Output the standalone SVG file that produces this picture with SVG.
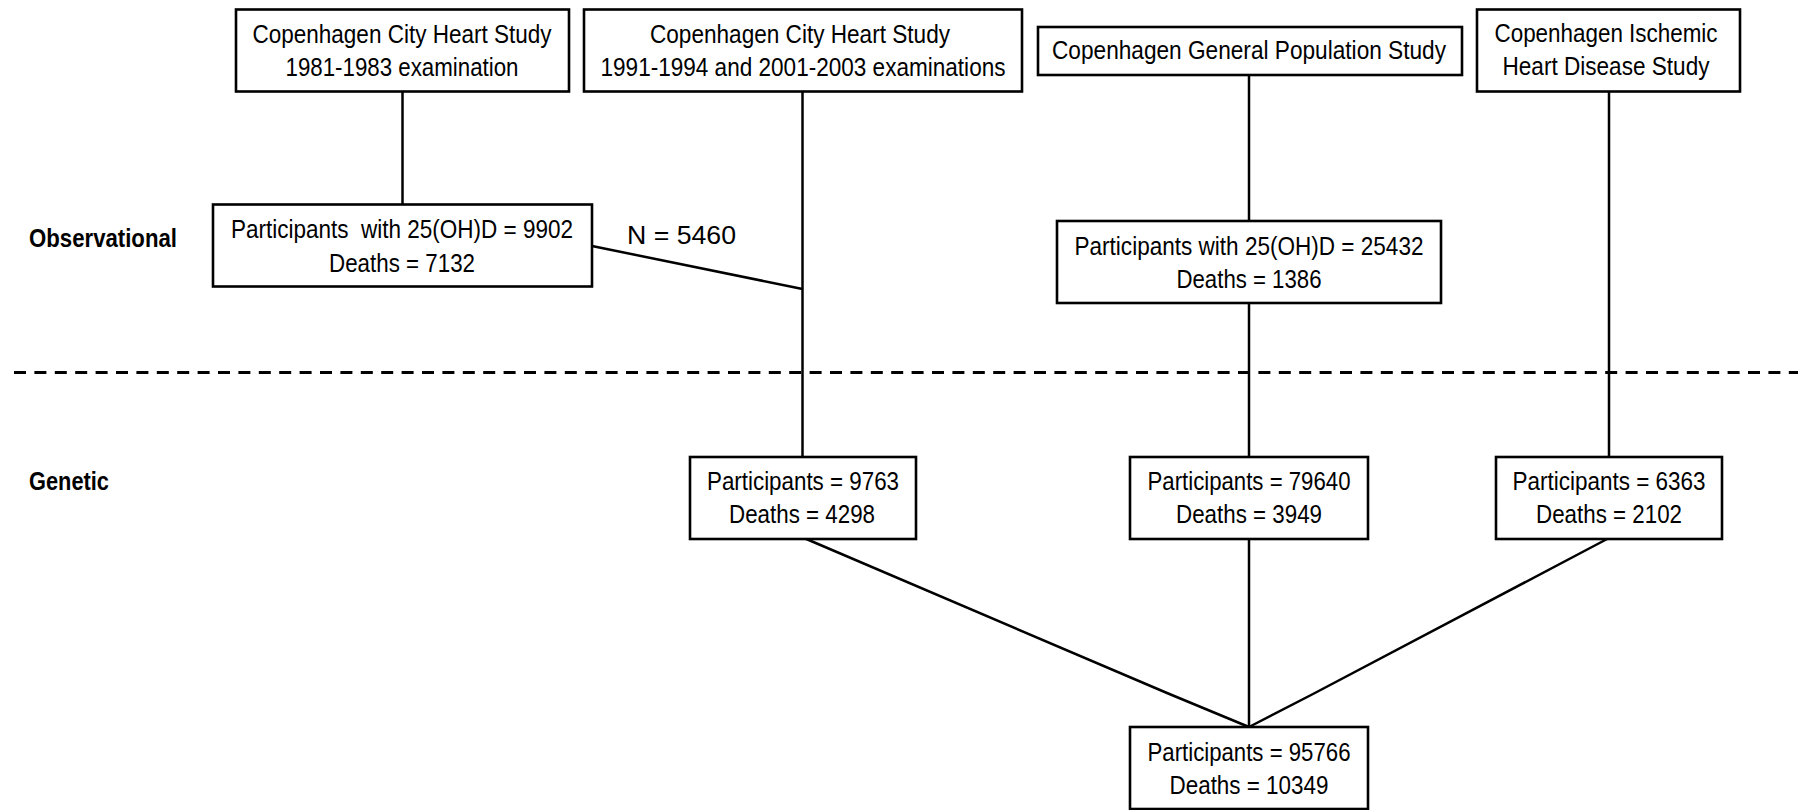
<svg xmlns="http://www.w3.org/2000/svg" width="1798" height="810" viewBox="0 0 1798 810">
<style>
.box{fill:#fff;stroke:#000;stroke-width:2.6}
.t{font-family:"Liberation Sans Narrow","Liberation Sans",Arial,sans-serif;font-size:25px;fill:#000;text-anchor:middle;white-space:pre}
.lbl{font-family:"Liberation Sans Narrow","Liberation Sans",Arial,sans-serif;font-size:25px;font-weight:bold;fill:#000}
.n{font-family:"Liberation Sans",Arial,sans-serif;font-size:26.5px;fill:#000}
.c{fill:none;stroke:#000;stroke-width:2.5}
</style>
<rect width="1798" height="810" fill="#fff"/>
<g id="connectors">
<line class="c" x1="402.5" y1="91" x2="402.5" y2="204"/>
<line class="c" x1="802.5" y1="91" x2="802.5" y2="456"/>
<line class="c" x1="592" y1="246" x2="802.5" y2="289"/>
<line class="c" x1="1249" y1="75" x2="1249" y2="221"/>
<line class="c" x1="1249" y1="303" x2="1249" y2="456"/>
<line class="c" x1="1609" y1="91" x2="1609" y2="456"/>
<line class="c" x1="1249" y1="538" x2="1249" y2="727"/>
<polyline class="c" points="804,538 1167,693 1249,727"/>
<polyline class="c" points="1609,538 1313,694 1249,727"/>
</g>
<line id="divider" x1="14" y1="372.5" x2="1798" y2="372.5" stroke="#000" stroke-width="3" stroke-dasharray="12 8.4"/>
<g id="label-observational"><text class="lbl" x="29" y="247" textLength="148" lengthAdjust="spacingAndGlyphs">Observational</text></g>
<g id="label-genetic"><text class="lbl" x="29" y="490" textLength="80" lengthAdjust="spacingAndGlyphs">Genetic</text></g>
<g id="cchs1">
<rect class="box" x="236" y="9.5" width="333" height="82"/>
<text class="t" x="402" y="43" textLength="299" lengthAdjust="spacingAndGlyphs">Copenhagen City Heart Study</text>
<text class="t" x="402" y="76" textLength="233" lengthAdjust="spacingAndGlyphs">1981-1983 examination</text>
</g>
<g id="cchs2">
<rect class="box" x="584" y="9.5" width="438" height="82"/>
<text class="t" x="800" y="43" textLength="300" lengthAdjust="spacingAndGlyphs">Copenhagen City Heart Study</text>
<text class="t" x="803" y="76" textLength="405" lengthAdjust="spacingAndGlyphs">1991-1994 and 2001-2003 examinations</text>
</g>
<g id="cgps">
<rect class="box" x="1038" y="27" width="424" height="48"/>
<text class="t" x="1249" y="59" textLength="394" lengthAdjust="spacingAndGlyphs">Copenhagen General Population Study</text>
</g>
<g id="cihds">
<rect class="box" x="1477" y="9.5" width="263" height="82"/>
<text class="t" x="1606" y="42" textLength="223" lengthAdjust="spacingAndGlyphs">Copenhagen Ischemic</text>
<text class="t" x="1606" y="75" textLength="207" lengthAdjust="spacingAndGlyphs">Heart Disease Study</text>
</g>
<g id="obs1">
<rect class="box" x="213" y="204.5" width="379" height="82"/>
<text class="t" x="402" y="238" textLength="342" lengthAdjust="spacingAndGlyphs" xml:space="preserve">Participants  with 25(OH)D = 9902</text>
<text class="t" x="402" y="272" textLength="146" lengthAdjust="spacingAndGlyphs">Deaths = 7132</text>
</g>
<g id="n-label"><text class="n" x="627" y="243.5" textLength="109" lengthAdjust="spacingAndGlyphs">N = 5460</text></g>
<g id="obs2">
<rect class="box" x="1057" y="221" width="384" height="82"/>
<text class="t" x="1249" y="255" textLength="349" lengthAdjust="spacingAndGlyphs">Participants with 25(OH)D = 25432</text>
<text class="t" x="1249" y="288" textLength="145" lengthAdjust="spacingAndGlyphs">Deaths = 1386</text>
</g>
<g id="gen1">
<rect class="box" x="690" y="457" width="226" height="82"/>
<text class="t" x="803" y="490" textLength="192" lengthAdjust="spacingAndGlyphs">Participants = 9763</text>
<text class="t" x="802" y="523" textLength="146" lengthAdjust="spacingAndGlyphs">Deaths = 4298</text>
</g>
<g id="gen2">
<rect class="box" x="1130" y="457" width="238" height="82"/>
<text class="t" x="1249" y="490" textLength="203" lengthAdjust="spacingAndGlyphs">Participants = 79640</text>
<text class="t" x="1249" y="523" textLength="146" lengthAdjust="spacingAndGlyphs">Deaths = 3949</text>
</g>
<g id="gen3">
<rect class="box" x="1496" y="457" width="226" height="82"/>
<text class="t" x="1609" y="490" textLength="193" lengthAdjust="spacingAndGlyphs">Participants = 6363</text>
<text class="t" x="1609" y="523" textLength="146" lengthAdjust="spacingAndGlyphs">Deaths = 2102</text>
</g>
<g id="total">
<rect class="box" x="1130" y="727" width="238" height="82"/>
<text class="t" x="1249" y="761" textLength="203" lengthAdjust="spacingAndGlyphs">Participants = 95766</text>
<text class="t" x="1249" y="794" textLength="159" lengthAdjust="spacingAndGlyphs">Deaths = 10349</text>
</g>
</svg>
